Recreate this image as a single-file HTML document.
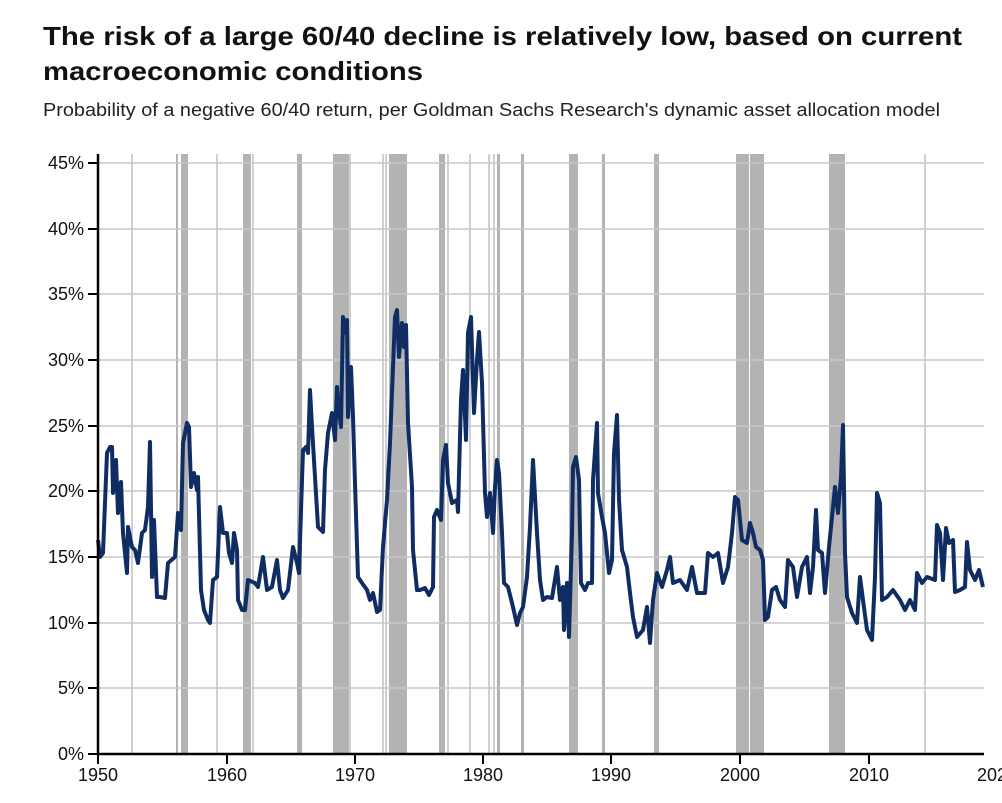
<!DOCTYPE html>
<html><head><meta charset="utf-8"><style>
html,body{margin:0;padding:0;background:#fff;}
svg{display:block;font-family:"Liberation Sans",sans-serif;}
</style></head><body>
<svg width="1002" height="803" viewBox="0 0 1002 803" xmlns="http://www.w3.org/2000/svg">
<text x="43" y="45" font-size="26" font-weight="bold" fill="#111" textLength="919" lengthAdjust="spacingAndGlyphs">The risk of a large 60/40 decline is relatively low, based on current</text>
<text x="43" y="80" font-size="26" font-weight="bold" fill="#111" textLength="380" lengthAdjust="spacingAndGlyphs">macroeconomic conditions</text>
<text x="43" y="116" font-size="18" fill="#222" textLength="897" lengthAdjust="spacingAndGlyphs">Probability of a negative 60/40 return, per Goldman Sachs Research's dynamic asset allocation model</text>
<g fill="#b3b3b3">
<rect x="176" y="154" width="2" height="600"/><rect x="181" y="154" width="7" height="600"/>
<rect x="243" y="154" width="8" height="600"/><rect x="297" y="154" width="5" height="600"/>
<rect x="333" y="154" width="16" height="600"/><rect x="389" y="154" width="18" height="600"/>
<rect x="439" y="154" width="6" height="600"/><rect x="497" y="154" width="3" height="600"/>
<rect x="521" y="154" width="3" height="600"/><rect x="569" y="154" width="9" height="600"/>
<rect x="602" y="154" width="3" height="600"/><rect x="654" y="154" width="5" height="600"/>
<rect x="736" y="154" width="13" height="600"/><rect x="750" y="154" width="14" height="600"/>
<rect x="829" y="154" width="16" height="600"/>
</g>
<g stroke="#a0a0a0" stroke-width="1">
<line x1="132" y1="154" x2="132" y2="754"/><line x1="217" y1="154" x2="217" y2="754"/>
<line x1="253" y1="154" x2="253" y2="754"/><line x1="350" y1="154" x2="350" y2="754"/>
<line x1="383" y1="154" x2="383" y2="754"/><line x1="386" y1="154" x2="386" y2="754"/>
<line x1="448" y1="154" x2="448" y2="754"/><line x1="470" y1="154" x2="470" y2="754"/>
<line x1="489" y1="154" x2="489" y2="754"/><line x1="494" y1="154" x2="494" y2="754"/>
<line x1="925" y1="154" x2="925" y2="754"/>
</g>
<g stroke="#c8c8c8" stroke-width="1.5">
<line x1="98" y1="163" x2="984" y2="163"/><line x1="98" y1="229" x2="984" y2="229"/>
<line x1="98" y1="294" x2="984" y2="294"/><line x1="98" y1="360" x2="984" y2="360"/>
<line x1="98" y1="426" x2="984" y2="426"/><line x1="98" y1="491" x2="984" y2="491"/>
<line x1="98" y1="557" x2="984" y2="557"/><line x1="98" y1="623" x2="984" y2="623"/>
<line x1="98" y1="688" x2="984" y2="688"/>
</g>
<polyline fill="none" stroke="#0f2d63" stroke-width="4" stroke-linejoin="round" points="98,540 100,557 103,553 107,453 110,447 112,447 113,493 116,460 118,513 121,482 123,533 127,573 128,527 132,547 135,550 138,563 142,533 145,530 148,507 150,442 152,577 154,520 157,597 160,597 165,598 168,563 175,557 178,513 181,530 183,443 187,423 189,427 191,487 194,473 197,490 198,477 201,590 204,610 208,620 210,623 213,580 217,577 220,507 223,533 227,533 229,553 232,563 234,533 237,550 238,600 242,610 245,610 248,580 255,583 258,587 263,557 267,590 272,587 277,560 280,590 283,598 288,590 293,547 297,563 299,573 302,480 303,450 306,447 308,453 310,390 312,427 315,477 318,527 323,532 325,470 328,433 332,413 335,440 337,387 338,403 341,427 343,317 346,333 347,320 348,417 351,367 353,417 355,483 358,577 362,583 367,590 370,600 373,593 377,612 380,610 383,547 387,500 390,443 393,367 395,317 397,310 399,357 402,323 404,347 406,325 408,423 412,487 413,550 417,590 420,590 425,588 429,595 433,587 434,517 437,510 441,520 443,460 446,445 448,483 452,503 457,500 458,512 461,400 463,370 466,440 468,333 471,317 474,413 477,360 479,332 482,383 485,493 487,517 490,493 493,533 495,487 497,460 499,473 502,533 504,583 508,587 513,607 517,625 520,613 523,607 527,577 530,527 533,460 537,533 540,580 543,600 547,597 552,598 557,567 560,600 563,587 564,630 567,583 569,637 572,533 573,467 576,457 579,480 581,583 585,590 588,583 592,583 593,480 597,423 598,493 602,517 605,533 609,573 612,560 614,453 617,415 619,500 622,550 627,567 630,593 633,617 637,637 643,630 647,607 650,643 653,600 657,573 662,587 667,570 670,557 673,583 680,580 687,590 692,567 697,593 705,593 708,553 713,557 718,553 723,583 728,567 732,533 735,497 738,500 742,540 747,543 750,523 753,533 756,547 760,550 763,560 765,620 768,617 772,590 776,587 780,600 785,607 788,560 793,567 797,597 802,567 807,557 810,593 813,567 816,510 818,550 822,553 825,593 829,547 832,517 835,487 838,513 841,477 843,425 845,553 847,597 852,613 857,623 860,577 863,600 867,630 872,640 875,577 877,493 880,503 882,600 887,597 893,590 900,600 905,610 910,600 915,610 917,573 922,583 927,577 935,580 937,525 940,533 943,580 946,528 949,543 953,540 955,592 960,590 965,587 967,542 970,570 975,580 979,570 983,587"/>
<g stroke="#000" stroke-width="2.5">
<line x1="98" y1="154" x2="98" y2="755"/>
<line x1="97" y1="754" x2="984" y2="754"/>
</g>
<g stroke="#000" stroke-width="2">
<line x1="88" y1="163" x2="98" y2="163"/><line x1="88" y1="229" x2="98" y2="229"/>
<line x1="88" y1="294" x2="98" y2="294"/><line x1="88" y1="360" x2="98" y2="360"/>
<line x1="88" y1="426" x2="98" y2="426"/><line x1="88" y1="491" x2="98" y2="491"/>
<line x1="88" y1="557" x2="98" y2="557"/><line x1="88" y1="623" x2="98" y2="623"/>
<line x1="88" y1="688" x2="98" y2="688"/><line x1="88" y1="754" x2="98" y2="754"/>
<line x1="98" y1="754" x2="98" y2="764"/><line x1="227" y1="754" x2="227" y2="764"/>
<line x1="355" y1="754" x2="355" y2="764"/><line x1="483" y1="754" x2="483" y2="764"/>
<line x1="611" y1="754" x2="611" y2="764"/><line x1="740" y1="754" x2="740" y2="764"/>
<line x1="869" y1="754" x2="869" y2="764"/>
</g>
<g font-size="18" fill="#111" text-anchor="end">
<text x="84" y="169">45%</text><text x="84" y="235">40%</text><text x="84" y="300">35%</text>
<text x="84" y="366">30%</text><text x="84" y="432">25%</text><text x="84" y="497">20%</text>
<text x="84" y="563">15%</text><text x="84" y="629">10%</text><text x="84" y="694">5%</text>
<text x="84" y="760">0%</text>
</g>
<g font-size="18" fill="#111" text-anchor="middle">
<text x="98" y="781">1950</text><text x="227" y="781">1960</text><text x="355" y="781">1970</text>
<text x="483" y="781">1980</text><text x="611" y="781">1990</text><text x="740" y="781">2000</text>
<text x="869" y="781">2010</text><text x="997" y="781">2020</text>
</g>
</svg>
</body></html>
